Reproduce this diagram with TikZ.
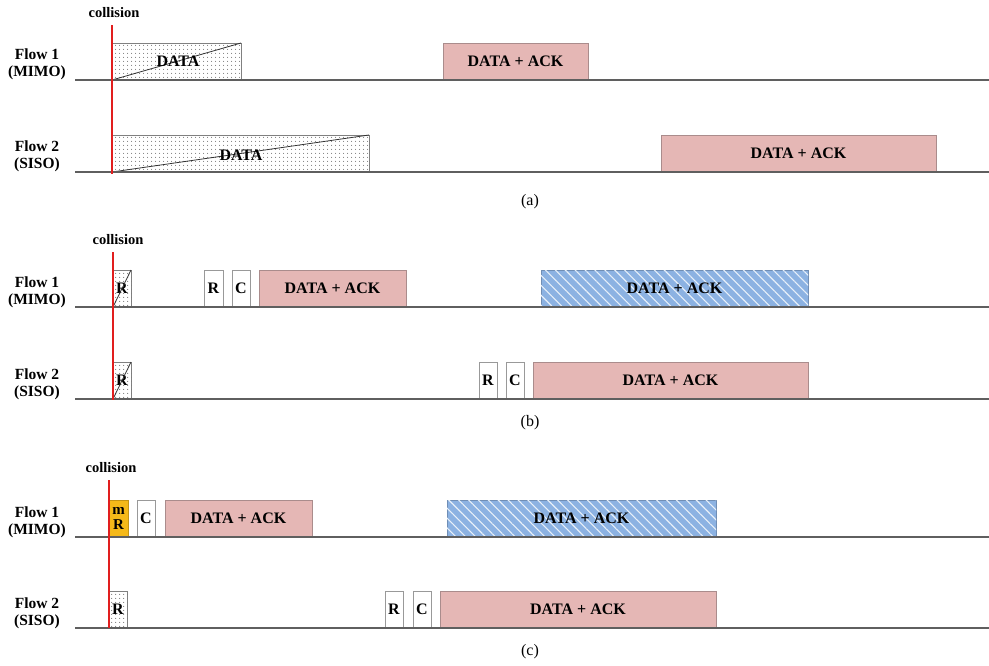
\documentclass[tikz,border=0pt]{standalone}
\usepackage{fontspec}
\setmainfont{Liberation Serif}
\usetikzlibrary{patterns.meta}
\definecolor{pinkbox}{RGB}{229,183,181}
\definecolor{pinkedge}{RGB}{170,140,140}
\definecolor{bluebox}{RGB}{140,178,226}
\definecolor{orangebox}{RGB}{245,185,25}
\definecolor{lineg}{RGB}{95,95,95}
\definecolor{colred}{RGB}{225,30,30}
\tikzset{
  x=1pt, y=-1pt,
  lbl/.style={font=\fontsize{15.5}{17}\selectfont\bfseries, align=center},
  boxbase/.style={anchor=north west, inner sep=0pt, outer sep=0pt, minimum height=37pt, font=\fontsize{16}{17}\selectfont\bfseries},
  dotbox/.style={boxbase, draw=gray, line width=0.5pt, fill=white,
     postaction={pattern={Dots[radius=0.6pt,distance=4pt]}, pattern color=black!70}},
  whitebox/.style={boxbase, draw=gray!80, line width=0.6pt, fill=white},
  pinkb/.style={boxbase, draw=pinkedge, line width=0.6pt, fill=pinkbox},
  blueb/.style={boxbase, draw=bluebox!80!black, line width=0.5pt, fill=bluebox,
     postaction={pattern={Lines[angle=-45,distance=7pt,line width=1.1pt]}, pattern color=white!80!bluebox}},
  orangeb/.style={boxbase, draw=orangebox!80!black, line width=0.5pt, fill=orangebox, align=center,
     font=\fontsize{15}{15}\selectfont\bfseries},
  baseln/.style={draw=lineg, line width=1.2pt},
  colline/.style={draw=colred, line width=1.8pt},
  diag/.style={draw=black!80, line width=0.8pt},
  captxt/.style={font=\fontsize{16}{17}\selectfont},
  coll/.style={font=\fontsize{14.5}{15}\selectfont\bfseries}
}
\begin{document}
\begin{tikzpicture}
\useasboundingbox (0,0) rectangle (989,665);
% ---------- panel (a) ----------
\node[lbl] (a1l) at (37,64) {Flow 1\\(MIMO)};
\node[lbl] (a2l) at (37,156) {Flow 2\\(SISO)};
\coordinate (a1s) at (75,80); \coordinate (a1e) at (989,80);
\coordinate (a2s) at (75,172); \coordinate (a2e) at (989,172);
\node[dotbox, minimum width=129pt] (a1d) at (112,43) {};
\draw[diag] (a1d.south west) -- (a1d.north east);
\node[font=\fontsize{16}{17}\selectfont\bfseries] (a1dt) at (178,61) {DATA};
\node[pinkb, minimum width=145pt] (a1p) at (443,43) {DATA + ACK};
\node[dotbox, minimum width=257pt] (a2d) at (112,135) {};
\draw[diag] (a2d.south west) -- (a2d.north east);
\node[font=\fontsize{16}{17}\selectfont\bfseries] (a2dt) at (241,155) {DATA};
\node[pinkb, minimum width=275pt] (a2p) at (661,135) {DATA + ACK};
\draw[baseln] (a1s) -- (a1e);
\draw[baseln] (a2s) -- (a2e);
\node[coll] (acol) at (114,13) {collision};
\coordinate (art) at (112,25); \coordinate (arb) at (112,174);
\draw[colline] (art) -- (arb);
\node[captxt] (acap) at (530,202) {(a)};
% ---------- panel (b) ----------
\node[lbl] (b1l) at (37,292) {Flow 1\\(MIMO)};
\node[lbl] (b2l) at (37,384) {Flow 2\\(SISO)};
\coordinate (b1s) at (75,307); \coordinate (b1e) at (989,307);
\coordinate (b2s) at (75,399); \coordinate (b2e) at (989,399);
\node[dotbox, minimum width=18pt] (b1r) at (113,270) {R};
\draw[diag] (b1r.south west) -- (b1r.north east);
\node[whitebox, minimum width=19pt] (b1R) at (204,270) {R};
\node[whitebox, minimum width=18pt] (b1C) at (232,270) {C};
\node[pinkb, minimum width=147pt] (b1p) at (259,270) {DATA + ACK};
\node[blueb, minimum width=267pt] (b1b) at (541,270) {DATA + ACK};
\node[dotbox, minimum width=18pt] (b2r) at (113,362) {R};
\draw[diag] (b2r.south west) -- (b2r.north east);
\node[whitebox, minimum width=18pt] (b2R) at (479,362) {R};
\node[whitebox, minimum width=18pt] (b2C) at (506,362) {C};
\node[pinkb, minimum width=275pt] (b2p) at (533,362) {DATA + ACK};
\draw[baseln] (b1s) -- (b1e);
\draw[baseln] (b2s) -- (b2e);
\node[coll] (bcol) at (118,240) {collision};
\coordinate (brt) at (113,252); \coordinate (brb) at (113,400);
\draw[colline] (brt) -- (brb);
\node[captxt] (bcap) at (530,423) {(b)};
% ---------- panel (c) ----------
\node[lbl] (c1l) at (37,522) {Flow 1\\(MIMO)};
\node[lbl] (c2l) at (37,613) {Flow 2\\(SISO)};
\coordinate (c1s) at (75,537); \coordinate (c1e) at (989,537);
\coordinate (c2s) at (75,628); \coordinate (c2e) at (989,628);
\node[orangeb, minimum width=19pt] (c1m) at (109,500) {m\\R};
\node[whitebox, minimum width=18pt] (c1C) at (137,500) {C};
\node[pinkb, minimum width=147pt] (c1p) at (165,500) {DATA + ACK};
\node[blueb, minimum width=269pt] (c1b) at (447,500) {DATA + ACK};
\node[dotbox, minimum width=18pt] (c2r) at (109,591) {R};
\node[whitebox, minimum width=18pt] (c2R) at (385,591) {R};
\node[whitebox, minimum width=18pt] (c2C) at (413,591) {C};
\node[pinkb, minimum width=276pt] (c2p) at (440,591) {DATA + ACK};
\draw[baseln] (c1s) -- (c1e);
\draw[baseln] (c2s) -- (c2e);
\node[coll] (ccol) at (111,468) {collision};
\coordinate (crt) at (109,480); \coordinate (crb) at (109,628);
\draw[colline] (crt) -- (crb);
\node[captxt] (ccap) at (530,652) {(c)};
\end{tikzpicture}
\end{document}
